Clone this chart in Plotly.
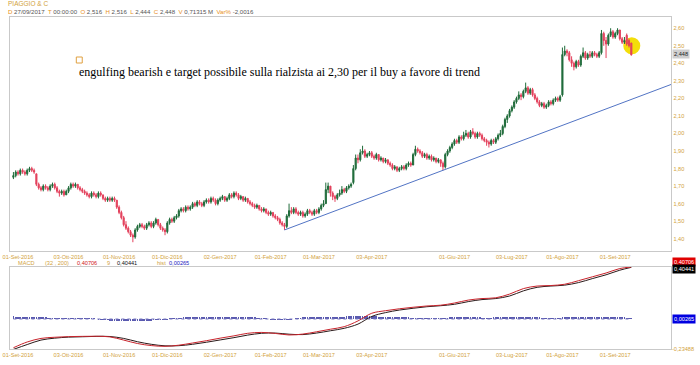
import plotly.graph_objects as go

# ---------------- data ----------------
tick_idx = [2, 24, 46, 67, 90, 112, 133, 156, 192, 217, 239, 262]
tick_labels = ["01-Set-2016", "03-Ott-2016", "01-Nov-2016", "01-Dic-2016", "02-Gen-2017",
               "01-Feb-2017", "01-Mar-2017", "03-Apr-2017", "01-Giu-2017", "03-Lug-2017",
               "01-Ago-2017", "01-Set-2017"]
price_ticks = [1.40, 1.50, 1.60, 1.70, 1.80, 1.90, 2.00, 2.10, 2.20, 2.30, 2.40, 2.50, 2.60]

opens = [
    1.75, 1.76, 1.78, 1.77, 1.79, 1.78, 1.77, 1.79, 1.80, 1.79,
    1.77, 1.71, 1.69, 1.68, 1.70, 1.69, 1.68, 1.70, 1.71, 1.69,
    1.67, 1.66, 1.67, 1.65, 1.67, 1.69, 1.71, 1.70, 1.71, 1.69,
    1.68, 1.67, 1.66, 1.65, 1.64, 1.66, 1.65, 1.64, 1.66, 1.65,
    1.63, 1.62, 1.63, 1.62, 1.63, 1.62, 1.58, 1.55, 1.52, 1.48,
    1.46, 1.44, 1.42, 1.41, 1.45, 1.47, 1.48, 1.47, 1.46, 1.48,
    1.49, 1.47, 1.49, 1.51, 1.48, 1.46, 1.45, 1.44, 1.49, 1.51,
    1.50, 1.52, 1.53, 1.56, 1.57, 1.56, 1.58, 1.57, 1.58, 1.60,
    1.59, 1.61, 1.60, 1.59, 1.61, 1.62, 1.61, 1.63, 1.62, 1.60,
    1.62, 1.63, 1.64, 1.62, 1.63, 1.65, 1.64, 1.66, 1.65, 1.63,
    1.64, 1.62, 1.63, 1.61, 1.60, 1.59, 1.58, 1.59, 1.57, 1.56,
    1.57, 1.55, 1.54, 1.55, 1.53, 1.52, 1.51, 1.49, 1.48, 1.47,
    1.53, 1.56, 1.55, 1.57, 1.55, 1.54, 1.55, 1.53, 1.54, 1.56,
    1.55, 1.54, 1.56, 1.55, 1.57, 1.59, 1.60, 1.68, 1.70, 1.66,
    1.64, 1.63, 1.65, 1.66, 1.68, 1.67, 1.69, 1.70, 1.72, 1.80,
    1.86, 1.85, 1.89, 1.90, 1.87, 1.88, 1.89, 1.87, 1.86, 1.88,
    1.85, 1.86, 1.84, 1.85, 1.83, 1.82, 1.80, 1.81, 1.79, 1.80,
    1.81, 1.80, 1.82, 1.83, 1.82, 1.88, 1.91, 1.90, 1.89, 1.87,
    1.88, 1.86, 1.87, 1.85, 1.86, 1.84, 1.85, 1.83, 1.81, 1.88,
    1.90, 1.92, 1.94, 1.96, 1.95, 1.98, 1.97, 1.99, 2.00, 1.98,
    2.01, 2.00, 1.98, 2.00, 1.99, 1.97, 1.96, 1.95, 1.94, 1.96,
    1.95, 1.97, 1.99, 2.00, 2.04, 2.08, 2.10, 2.13, 2.15, 2.18,
    2.20, 2.22, 2.21, 2.24, 2.26, 2.23, 2.25, 2.22, 2.20, 2.18,
    2.16, 2.17, 2.15, 2.16, 2.18, 2.17, 2.19, 2.20, 2.19, 2.22,
    2.45, 2.47, 2.46, 2.42, 2.40, 2.38, 2.41, 2.39, 2.44, 2.46,
    2.43, 2.45, 2.44, 2.46, 2.45, 2.44, 2.46, 2.57, 2.53, 2.51,
    2.56, 2.58, 2.55, 2.57, 2.59, 2.54, 2.52, 2.56, 2.53, 2.516,
]
highs = [
    1.78, 1.79, 1.79, 1.80, 1.80, 1.79, 1.80, 1.81, 1.81, 1.80,
    1.77, 1.72, 1.70, 1.71, 1.71, 1.70, 1.71, 1.72, 1.72, 1.70,
    1.68, 1.68, 1.68, 1.68, 1.70, 1.72, 1.72, 1.72, 1.71, 1.70,
    1.69, 1.68, 1.67, 1.66, 1.67, 1.67, 1.66, 1.67, 1.67, 1.65,
    1.64, 1.64, 1.64, 1.64, 1.64, 1.62, 1.59, 1.56, 1.53, 1.50,
    1.47, 1.45, 1.43, 1.46, 1.48, 1.49, 1.49, 1.48, 1.49, 1.50,
    1.50, 1.50, 1.52, 1.51, 1.49, 1.47, 1.46, 1.50, 1.52, 1.52,
    1.53, 1.54, 1.57, 1.58, 1.58, 1.59, 1.59, 1.59, 1.61, 1.61,
    1.62, 1.62, 1.61, 1.62, 1.63, 1.63, 1.64, 1.64, 1.63, 1.63,
    1.64, 1.65, 1.64, 1.64, 1.66, 1.66, 1.67, 1.67, 1.66, 1.65,
    1.64, 1.64, 1.63, 1.62, 1.61, 1.60, 1.60, 1.59, 1.58, 1.58,
    1.57, 1.56, 1.56, 1.55, 1.54, 1.53, 1.52, 1.50, 1.49, 1.54,
    1.60, 1.58, 1.58, 1.58, 1.56, 1.56, 1.56, 1.55, 1.57, 1.57,
    1.56, 1.57, 1.57, 1.58, 1.60, 1.62, 1.72, 1.72, 1.70, 1.67,
    1.65, 1.66, 1.68, 1.70, 1.69, 1.70, 1.71, 1.72, 1.82, 1.88,
    1.88, 1.91, 1.93, 1.91, 1.89, 1.90, 1.90, 1.88, 1.89, 1.88,
    1.87, 1.86, 1.86, 1.85, 1.84, 1.83, 1.82, 1.81, 1.81, 1.82,
    1.82, 1.83, 1.84, 1.84, 1.89, 1.93, 1.92, 1.91, 1.90, 1.89,
    1.89, 1.88, 1.88, 1.87, 1.86, 1.86, 1.85, 1.84, 1.89, 1.91,
    1.93, 1.95, 1.97, 1.97, 1.99, 1.99, 2.01, 2.02, 2.01, 2.02,
    2.03, 2.01, 2.01, 2.01, 2.00, 1.98, 1.97, 1.96, 1.97, 1.97,
    1.98, 2.00, 2.02, 2.05, 2.09, 2.11, 2.14, 2.16, 2.19, 2.21,
    2.24, 2.23, 2.25, 2.29, 2.27, 2.26, 2.26, 2.23, 2.21, 2.19,
    2.18, 2.18, 2.17, 2.19, 2.19, 2.20, 2.21, 2.21, 2.22, 2.49,
    2.50, 2.48, 2.47, 2.44, 2.41, 2.42, 2.42, 2.45, 2.49, 2.47,
    2.46, 2.47, 2.47, 2.47, 2.46, 2.47, 2.59, 2.58, 2.55, 2.57,
    2.60, 2.59, 2.58, 2.60, 2.59, 2.55, 2.55, 2.57, 2.54, 2.516,
]
lows = [
    1.74, 1.75, 1.76, 1.76, 1.77, 1.76, 1.76, 1.78, 1.78, 1.77,
    1.70, 1.68, 1.67, 1.67, 1.68, 1.67, 1.67, 1.69, 1.68, 1.66,
    1.64, 1.65, 1.64, 1.65, 1.66, 1.68, 1.69, 1.69, 1.68, 1.67,
    1.66, 1.65, 1.64, 1.63, 1.63, 1.64, 1.63, 1.63, 1.64, 1.62,
    1.61, 1.61, 1.61, 1.61, 1.61, 1.57, 1.54, 1.51, 1.47, 1.45,
    1.43, 1.41, 1.38, 1.40, 1.44, 1.46, 1.46, 1.45, 1.45, 1.47,
    1.46, 1.46, 1.48, 1.47, 1.45, 1.44, 1.42, 1.43, 1.48, 1.49,
    1.49, 1.51, 1.52, 1.55, 1.55, 1.55, 1.56, 1.56, 1.57, 1.58,
    1.58, 1.59, 1.58, 1.58, 1.60, 1.60, 1.60, 1.61, 1.59, 1.59,
    1.61, 1.62, 1.61, 1.61, 1.62, 1.63, 1.63, 1.64, 1.62, 1.62,
    1.61, 1.61, 1.60, 1.59, 1.58, 1.57, 1.57, 1.56, 1.55, 1.55,
    1.54, 1.53, 1.53, 1.52, 1.51, 1.50, 1.48, 1.47, 1.45, 1.46,
    1.52, 1.54, 1.54, 1.54, 1.53, 1.53, 1.52, 1.52, 1.53, 1.54,
    1.53, 1.53, 1.54, 1.54, 1.56, 1.58, 1.60, 1.66, 1.64, 1.62,
    1.61, 1.62, 1.64, 1.65, 1.66, 1.66, 1.68, 1.69, 1.71, 1.79,
    1.83, 1.84, 1.88, 1.86, 1.86, 1.87, 1.86, 1.85, 1.85, 1.84,
    1.84, 1.83, 1.83, 1.82, 1.81, 1.79, 1.79, 1.78, 1.78, 1.79,
    1.79, 1.79, 1.81, 1.81, 1.82, 1.87, 1.89, 1.88, 1.86, 1.86,
    1.85, 1.85, 1.84, 1.84, 1.83, 1.83, 1.81, 1.79, 1.80, 1.87,
    1.89, 1.91, 1.93, 1.94, 1.94, 1.96, 1.96, 1.98, 1.97, 1.97,
    1.99, 1.97, 1.97, 1.98, 1.96, 1.95, 1.93, 1.92, 1.93, 1.94,
    1.94, 1.96, 1.98, 1.99, 2.03, 2.06, 2.09, 2.12, 2.14, 2.17,
    2.19, 2.19, 2.20, 2.23, 2.22, 2.22, 2.21, 2.19, 2.17, 2.15,
    2.15, 2.14, 2.14, 2.15, 2.16, 2.16, 2.18, 2.18, 2.18, 2.21,
    2.44, 2.44, 2.41, 2.38, 2.36, 2.37, 2.38, 2.38, 2.43, 2.42,
    2.42, 2.43, 2.43, 2.44, 2.43, 2.43, 2.45, 2.50, 2.43, 2.50,
    2.55, 2.54, 2.54, 2.56, 2.53, 2.51, 2.51, 2.50, 2.49, 2.444,
]
closes = [
    1.76, 1.78, 1.77, 1.79, 1.78, 1.77, 1.79, 1.80, 1.79, 1.78,
    1.71, 1.69, 1.68, 1.70, 1.69, 1.68, 1.70, 1.71, 1.69, 1.67,
    1.66, 1.67, 1.65, 1.67, 1.69, 1.71, 1.70, 1.71, 1.69, 1.68,
    1.67, 1.66, 1.65, 1.64, 1.66, 1.65, 1.64, 1.66, 1.65, 1.63,
    1.62, 1.63, 1.62, 1.63, 1.62, 1.58, 1.55, 1.52, 1.48, 1.46,
    1.44, 1.42, 1.41, 1.45, 1.47, 1.48, 1.47, 1.46, 1.48, 1.49,
    1.47, 1.49, 1.51, 1.48, 1.46, 1.45, 1.44, 1.49, 1.51, 1.50,
    1.52, 1.53, 1.56, 1.57, 1.56, 1.58, 1.57, 1.58, 1.60, 1.59,
    1.61, 1.60, 1.59, 1.61, 1.62, 1.61, 1.63, 1.62, 1.60, 1.62,
    1.63, 1.64, 1.62, 1.63, 1.65, 1.64, 1.66, 1.65, 1.63, 1.64,
    1.62, 1.63, 1.61, 1.60, 1.59, 1.58, 1.59, 1.57, 1.56, 1.57,
    1.55, 1.54, 1.55, 1.53, 1.52, 1.51, 1.49, 1.48, 1.47, 1.53,
    1.56, 1.55, 1.57, 1.55, 1.54, 1.55, 1.53, 1.54, 1.56, 1.55,
    1.54, 1.56, 1.55, 1.57, 1.59, 1.60, 1.68, 1.70, 1.66, 1.64,
    1.63, 1.65, 1.66, 1.68, 1.67, 1.69, 1.70, 1.71, 1.80, 1.86,
    1.85, 1.89, 1.90, 1.87, 1.88, 1.89, 1.87, 1.86, 1.88, 1.85,
    1.86, 1.84, 1.85, 1.83, 1.82, 1.80, 1.81, 1.79, 1.80, 1.81,
    1.80, 1.82, 1.83, 1.82, 1.88, 1.91, 1.90, 1.89, 1.87, 1.88,
    1.86, 1.87, 1.85, 1.86, 1.84, 1.85, 1.83, 1.81, 1.88, 1.90,
    1.92, 1.94, 1.96, 1.95, 1.98, 1.97, 1.99, 2.00, 1.98, 2.01,
    2.00, 1.98, 2.00, 1.99, 1.97, 1.96, 1.95, 1.94, 1.96, 1.95,
    1.97, 1.99, 2.00, 2.04, 2.08, 2.10, 2.13, 2.15, 2.18, 2.20,
    2.22, 2.21, 2.24, 2.26, 2.23, 2.25, 2.22, 2.20, 2.18, 2.16,
    2.17, 2.15, 2.16, 2.18, 2.17, 2.19, 2.20, 2.19, 2.21, 2.45,
    2.47, 2.46, 2.42, 2.40, 2.38, 2.41, 2.39, 2.44, 2.46, 2.43,
    2.45, 2.44, 2.46, 2.45, 2.44, 2.46, 2.57, 2.53, 2.51, 2.56,
    2.58, 2.55, 2.57, 2.59, 2.54, 2.52, 2.53, 2.51, 2.50, 2.448,
]

macd_idx = [0, 6, 12, 18, 24, 30, 36, 42, 48, 54, 60, 66, 72, 78, 84, 90, 96, 102, 108, 114,
            120, 126, 132, 138, 144, 150, 156, 162, 168, 174, 180, 186, 192, 198, 204, 210,
            216, 222, 228, 234, 240, 246, 252, 258, 264, 269]
macd_vals = [-0.225, -0.180, -0.152, -0.143, -0.138, -0.136, -0.135, -0.140, -0.165, -0.192,
             -0.208, -0.214, -0.205, -0.188, -0.170, -0.150, -0.132, -0.112, -0.105, -0.113,
             -0.125, -0.118, -0.100, -0.080, -0.060, -0.015, 0.045, 0.065, 0.080, 0.092,
             0.102, 0.108, 0.125, 0.148, 0.160, 0.166, 0.195, 0.238, 0.258, 0.262,
             0.272, 0.300, 0.330, 0.360, 0.395, 0.40706]
signal_vals = [-0.238, -0.200, -0.165, -0.150, -0.142, -0.139, -0.136, -0.137, -0.152, -0.178,
               -0.198, -0.210, -0.209, -0.198, -0.182, -0.164, -0.146, -0.126, -0.112, -0.110,
               -0.119, -0.122, -0.110, -0.092, -0.073, -0.040, 0.020, 0.050, 0.070, 0.084,
               0.096, 0.104, 0.115, 0.136, 0.152, 0.160, 0.180, 0.220, 0.248, 0.258,
               0.265, 0.285, 0.316, 0.346, 0.382, 0.40441]
hist_vals = [
    0.020, 0.019, 0.018, 0.018, 0.017, 0.016, 0.016, 0.015, 0.014, 0.013,
    0.012, 0.011, 0.010, 0.009, 0.008, 0.007, 0.007, 0.006, 0.005, 0.005,
    0.004, 0.004, 0.004, 0.003, 0.003, 0.003, 0.003, 0.003, 0.002, 0.002,
    0.002, 0.002, 0.002, 0.001, 0.001, 0.001, 0.000, -0.001, -0.002, -0.003,
    -0.004, -0.006, -0.008, -0.010, -0.011, -0.012, -0.013, -0.014, -0.014, -0.014,
    -0.014, -0.014, -0.014, -0.013, -0.013, -0.012, -0.012, -0.011, -0.010, -0.009,
    -0.008, -0.007, -0.006, -0.005, -0.004, -0.003, -0.002, -0.001, 0.001, 0.002,
    0.003, 0.004, 0.005, 0.007, 0.008, 0.009, 0.010, 0.010, 0.011, 0.011,
    0.012, 0.012, 0.012, 0.013, 0.013, 0.013, 0.014, 0.014, 0.014, 0.014,
    0.014, 0.014, 0.014, 0.014, 0.014, 0.014, 0.014, 0.014, 0.014, 0.013,
    0.013, 0.012, 0.011, 0.010, 0.009, 0.008, 0.007, 0.006, 0.004, 0.002,
    0.001, 0.000, -0.001, -0.002, -0.003, -0.004, -0.005, -0.006, -0.006, -0.005,
    -0.004, -0.002, 0.000, 0.002, 0.004, 0.006, 0.008, 0.009, 0.010, 0.011,
    0.012, 0.012, 0.012, 0.012, 0.012, 0.013, 0.013, 0.013, 0.013, 0.013,
    0.013, 0.014, 0.015, 0.016, 0.018, 0.020, 0.022, 0.024, 0.025, 0.025,
    0.025, 0.025, 0.024, 0.024, 0.024, 0.023, 0.022, 0.021, 0.020, 0.018,
    0.016, 0.015, 0.014, 0.013, 0.012, 0.011, 0.010, 0.010, 0.009, 0.009,
    0.008, 0.008, 0.008, 0.007, 0.007, 0.006, 0.006, 0.006, 0.006, 0.006,
    0.006, 0.006, 0.005, 0.005, 0.005, 0.005, 0.005, 0.005, 0.006, 0.007,
    0.008, 0.009, 0.010, 0.011, 0.011, 0.012, 0.012, 0.012, 0.012, 0.011,
    0.010, 0.009, 0.008, 0.008, 0.007, 0.006, 0.006, 0.006, 0.007, 0.008,
    0.009, 0.010, 0.012, 0.014, 0.016, 0.017, 0.018, 0.019, 0.019, 0.019,
    0.019, 0.018, 0.017, 0.016, 0.014, 0.013, 0.012, 0.011, 0.010, 0.008,
    0.007, 0.006, 0.005, 0.005, 0.004, 0.004, 0.004, 0.005, 0.006, 0.008,
    0.010, 0.012, 0.013, 0.014, 0.015, 0.015, 0.015, 0.015, 0.015, 0.015,
    0.015, 0.014, 0.014, 0.014, 0.014, 0.014, 0.014, 0.014, 0.014, 0.013,
    0.013, 0.013, 0.013, 0.012, 0.012, 0.011, 0.009, 0.007, 0.005, 0.003,
]

n = len(closes)
assert len(opens) == n and len(highs) == n and len(lows) == n and len(hist_vals) == n
idx = list(range(n))

# ---------------- styling ----------------
W, H = 700, 365
GOLD = "#d2a23c"
ORANGE = "#e8901c"
GREEN = "#1f6b3a"
RED = "#e3405c"
FONT = "Liberation Sans"
TICK_SIZE = 5.6
X_MAX = 286.4

def px(x):
    return x / W

def py(y):
    return 1 - y / H

fig = go.Figure()

fig.add_trace(go.Candlestick(
    x=idx, open=opens, high=highs, low=lows, close=closes,
    increasing=dict(line=dict(color=GREEN, width=1), fillcolor=GREEN),
    decreasing=dict(line=dict(color=RED, width=1), fillcolor=RED),
    whiskerwidth=0, xaxis="x", yaxis="y", showlegend=False, hoverinfo="skip"))

# trend line through the two swing lows (Feb and May 2017), extended to the right edge
a, b = 118, 187
slope = (lows[b] - lows[a]) / (b - a)
fig.add_trace(go.Scatter(
    x=[a, X_MAX], y=[lows[a], lows[a] + slope * (X_MAX - a)],
    mode="lines", line=dict(color="#5274c4", width=1),
    xaxis="x", yaxis="y", showlegend=False, hoverinfo="skip", cliponaxis=False))

# MACD panel
fig.add_trace(go.Bar(x=idx, y=hist_vals, width=0.35, marker=dict(color="#5a5ab0", line=dict(width=0)),
                     xaxis="x2", yaxis="y2", showlegend=False, hoverinfo="skip"))
fig.add_trace(go.Scatter(x=[0, n - 1], y=[0, 0], mode="lines",
                         line=dict(color="#7878c0", width=1, dash="dot"),
                         xaxis="x2", yaxis="y2", showlegend=False, hoverinfo="skip"))
fig.add_trace(go.Scatter(x=macd_idx, y=signal_vals, mode="lines", line=dict(color="#2a1a1a", width=1, shape="spline"),
                         xaxis="x2", yaxis="y2", showlegend=False, hoverinfo="skip"))
fig.add_trace(go.Scatter(x=macd_idx, y=macd_vals, mode="lines", line=dict(color="#c8242c", width=1, shape="spline"),
                         xaxis="x2", yaxis="y2", showlegend=False, hoverinfo="skip"))

axis_common = dict(showgrid=False, zeroline=False, showline=True, mirror=True,
                   linecolor="#c9c9c9", linewidth=1, ticks="")
xdom = [px(3), px(671)]
tfont = dict(size=TICK_SIZE, color=GOLD, family=FONT)

fig.update_layout(
    width=W, height=H, margin=dict(l=0, r=0, t=0, b=0),
    paper_bgcolor="white", plot_bgcolor="white", separators=",.", showlegend=False,
    bargap=0,
    xaxis=dict(domain=xdom, range=[-1.5, X_MAX], anchor="y", tickvals=tick_idx, ticktext=tick_labels,
               tickfont=tfont, rangeslider=dict(visible=False),
               ticklabeloverflow="allow", **axis_common),
    yaxis=dict(domain=[py(251), py(17)], range=[1.33, 2.664], anchor="x", side="right",
               tickvals=price_ticks, tickformat=".2f", ticklabeloverflow="allow",
               tickfont=tfont, **axis_common),
    xaxis2=dict(domain=xdom, range=[-1.5, X_MAX], anchor="y2", tickvals=tick_idx, ticktext=tick_labels,
                tickfont=tfont, ticklabeloverflow="allow", **axis_common),
    yaxis2=dict(domain=[py(349), py(267)], range=[-0.23488, 0.40706], anchor="x2", side="right",
                showticklabels=False, **axis_common),
)

# yellow highlight circle around the last bars
cx, cy, rx, ry = n - 0.8, 2.50, 3.7, 0.049
fig.add_shape(type="circle", xref="x", yref="y", x0=cx - rx, x1=cx + rx, y0=cy - ry, y1=cy + ry,
              fillcolor="#f3de0a", line=dict(width=0), layer="below")

# small square marker of the text note
fig.add_shape(type="rect", xref="paper", yref="paper", x0=px(70), x1=px(76), y0=py(63), y1=py(57),
              line=dict(color="#e0a040", width=1), fillcolor="white")

ann = []
def add_text(x, y, text, color, size=TICK_SIZE, family=FONT, bg=None, xanchor="left", pad=0):
    ann.append(dict(x=px(x), y=py(y), xref="paper", yref="paper", text=text, showarrow=False,
                    xanchor=xanchor, yanchor="middle", font=dict(size=size, color=color, family=family),
                    bgcolor=bg, borderpad=pad))

add_text(0, 4, "PIAGGIO & C", GOLD, size=6.5)

def o(s):
    return f'<span style="color:{ORANGE}">{s}</span>'
nb = "\u00a0\u00a0"
header = (o("D") + " 27/09/2017" + nb + o("T") + " 00:00:00" + nb + o("O") + " 2,516" + nb +
          o("H") + " 2,516" + nb + o("L") + " 2,444" + nb + o("C") + " 2,448" + nb +
          o("V") + " 0,71315 M" + nb + o("Var%") + " -2,0016")
add_text(0, 12, header, "#555555", size=6.1)

add_text(72, 72, "engulfing bearish e target possibile sulla rialzista ai 2,30 per il buy a favore di trend",
         "#000000", size=12, family="Liberation Serif")

# current price box
add_text(672, 54, "2,448", "#222222", bg="#cfcfcf", pad=1)

# MACD header
add_text(10, 263, "MACD", GOLD)
add_text(37, 263, "(32 , 200)", GOLD)
add_text(70, 263, "0,40706", "#d01818")
add_text(100, 263, "9", GOLD)
add_text(110, 263, "0,40441", "#111111")
add_text(150, 263, "hist", GOLD)
add_text(163, 263, "0,00265", "#2020c0")

# MACD right-side value boxes
add_text(672, 261.7, "0,40706", "#ffffff", bg="#e00000", pad=1)
add_text(672, 269, "0,40441", "#ffffff", bg="#000000", pad=1)
add_text(672, 319, "0,00265", "#ffffff", bg="#0000e0", pad=1)
add_text(671, 349, "-0,23488", GOLD)

fig.update_layout(annotations=ann)
fig.write_html("out.html", config={"displayModeBar": False},
               post_script="document.body.style.margin='0px';document.body.style.overflow='hidden';")
